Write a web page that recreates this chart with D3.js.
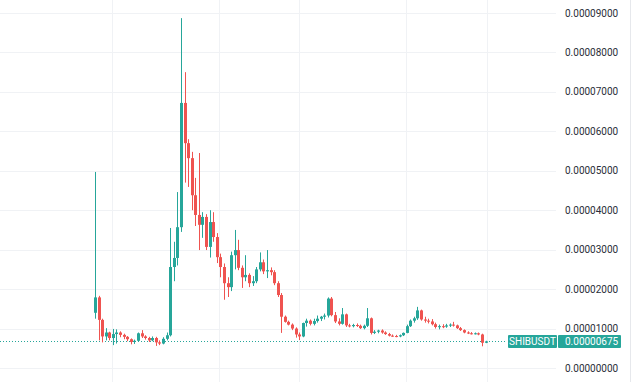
<!DOCTYPE html>
<html><head><meta charset="utf-8">
<script src="https://cdn.jsdelivr.net/npm/d3@7"></script>
<style>html,body{margin:0;padding:0;background:#fff;overflow:hidden}</style>
</head><body>
<svg id="c" width="640" height="382"></svg>
<script>
// Weekly SHIBUSDT candles, prices in units of 1e-8 USDT
const symbol = "SHIBUSDT";
const opens = [1400,1790,1220,800,900,760,860,900,840,790,730,660,690,880,800,760,700,760,650,620,
  740,830,2560,2790,3570,6720,5700,5320,4380,3880,3630,3830,3070,3700,3320,2810,2560,2150,2050,2860,
  2990,2540,2300,2360,2150,2200,2500,2680,2450,2480,2430,2150,1850,1300,1170,1100,1000,850,800,1140,
  1200,1120,1190,1250,1300,1330,1760,1340,1180,1120,1360,1080,1060,1090,1070,1010,1070,1260,890,920,
  950,900,860,820,810,800,830,890,1060,1200,1260,1460,1230,1200,1180,1110,1040,1060,1050,1080,
  1100,1080,1010,960,900,880,870,880,850,640];
const highs = [4970,1830,1250,1010,920,990,980,930,870,810,750,720,900,960,830,790,800,790,700,780,
  900,3550,3200,4460,8870,7500,5800,5480,4820,5450,3950,3900,4000,3950,3420,2900,2650,2300,2950,3500,
  3250,2600,2860,2400,2330,2560,2930,2750,2990,2550,2480,2200,1900,1330,1200,1130,1030,900,1150,1250,
  1230,1250,1330,1320,1380,1790,1800,1420,1260,1520,1380,1120,1120,1130,1100,1100,1520,1280,960,970,
  980,930,890,850,840,850,900,1100,1230,1300,1550,1480,1300,1250,1240,1150,1100,1110,1120,1130,
  1170,1100,1040,980,930,910,900,900,870,690];
const lows = [1250,700,650,700,700,580,620,780,730,680,600,610,660,760,720,660,680,560,580,600,
  700,800,2200,2600,3450,4700,4590,4000,3600,2990,3300,2990,2800,3200,2660,2300,1730,1800,1950,2500,
  2480,2030,2200,2050,2080,2150,2450,2380,2280,2350,2100,1800,890,1150,1080,960,770,710,780,1050,
  1080,1080,1150,1190,1230,1280,1310,1140,1080,1100,1040,1030,1030,1040,990,980,1040,850,860,880,
  870,840,800,790,780,780,810,880,1040,1150,1220,1200,1150,1130,1080,1000,980,1010,1020,1040,
  1050,990,940,880,860,850,850,830,550,630];
const closes = [1790,1220,800,900,760,860,900,840,790,730,660,690,880,800,760,700,760,650,620,740,
  830,2560,2790,3570,6720,5700,5320,4380,3880,3630,3830,3070,3700,3320,2810,2560,2150,2050,2860,2990,
  2540,2300,2360,2150,2200,2500,2680,2450,2480,2430,2150,1850,1300,1170,1100,1000,850,800,1140,1200,
  1120,1190,1250,1300,1330,1760,1340,1180,1120,1360,1080,1060,1090,1070,1010,1070,1260,890,920,950,
  900,860,820,810,800,830,890,1060,1200,1260,1460,1230,1200,1180,1110,1040,1060,1050,1080,1100,
  1080,1010,960,900,880,870,880,850,640,675];
const lastPrice = 675;
const priceTicks = [0,1000,2000,3000,4000,5000,6000,7000,8000,9000];
const monthGridWeeks = [4.6, 34.5, 56.8, 86.7, 109.3]; // Jun'21, 2022, Jun'22, 2023, Jun'23

const W = 640, H = 382;
const UP = "#26a69a", DOWN = "#ef5350";
const svg = d3.select("#c");
const n = opens.length;
const data = d3.range(n).map(i => ({i, o: opens[i], h: highs[i], l: lows[i], c: closes[i]}));

const x = d3.scaleLinear().domain([0, n - 1]).range([95.5, 486]);
const y = d3.scaleLinear().domain([0, 9000]).range([368, 13]);
const fmt = v => (v * 1e-8).toFixed(8);
const cx = i => Math.floor(x(i)) + 0.5;

// grid
const g = svg.append("g");
g.selectAll("line.h").data(priceTicks).join("line")
  .attr("x1", 0).attr("x2", 556)
  .attr("y1", d => Math.round(y(d)) + 0.5).attr("y2", d => Math.round(y(d)) + 0.5)
  .attr("stroke", "#f0f2f5").attr("stroke-width", 1);
g.selectAll("line.v").data(monthGridWeeks).join("line")
  .attr("x1", d => Math.round(x(d)) + 0.5).attr("x2", d => Math.round(x(d)) + 0.5)
  .attr("y1", 0).attr("y2", H)
  .attr("stroke", "#f0f2f5").attr("stroke-width", 1);
svg.append("line").attr("x1", 630.5).attr("x2", 630.5).attr("y1", 0).attr("y2", H)
  .attr("stroke", "#e6e8ec");

// price axis labels
svg.append("g").selectAll("text").data(priceTicks).join("text")
  .attr("x", 565).attr("y", d => y(d)).attr("dy", "0.35em")
  .attr("font-family", "Roboto, 'Liberation Sans', sans-serif").attr("font-size", 10)
  .attr("fill", "#2a2e39").text(fmt);

// last price dotted line
svg.append("line")
  .attr("x1", 0).attr("x2", 507)
  .attr("y1", Math.round(y(lastPrice)) + 0.5).attr("y2", Math.round(y(lastPrice)) + 0.5)
  .attr("stroke", UP).attr("stroke-width", 1).attr("stroke-dasharray", "1,2");

// candles
const cg = svg.append("g");
cg.selectAll("line.w").data(data).join("line")
  .attr("x1", d => cx(d.i)).attr("x2", d => cx(d.i))
  .attr("y1", d => y(d.h)).attr("y2", d => y(d.l))
  .attr("stroke", d => d.c >= d.o ? UP : DOWN).attr("stroke-width", 1);
cg.selectAll("rect").data(data).join("rect")
  .attr("x", d => cx(d.i) - 1.5).attr("width", 3)
  .attr("y", d => y(Math.max(d.o, d.c)))
  .attr("height", d => Math.max(1, Math.abs(y(d.o) - y(d.c))))
  .attr("fill", d => d.c >= d.o ? UP : DOWN);

// price label
const ly = y(lastPrice);
const lab = svg.append("g");
lab.append("rect").attr("x", 508).attr("y", ly - 6.5).attr("width", 49).attr("height", 13)
  .attr("rx", 1).attr("fill", UP);
lab.append("rect").attr("x", 558).attr("y", ly - 6.5).attr("width", 63).attr("height", 13)
  .attr("rx", 1).attr("fill", UP);
lab.append("text").attr("x", 532.5).attr("y", ly).attr("dy", "0.35em").attr("text-anchor", "middle")
  .attr("font-family", "Roboto, 'Liberation Sans', sans-serif").attr("font-size", 10)
  .attr("fill", "#fff").text(symbol);
lab.append("text").attr("x", 565).attr("y", ly).attr("dy", "0.35em")
  .attr("font-family", "Roboto, 'Liberation Sans', sans-serif").attr("font-size", 10)
  .attr("fill", "#fff").text(fmt(lastPrice));
</script>
</body></html>
